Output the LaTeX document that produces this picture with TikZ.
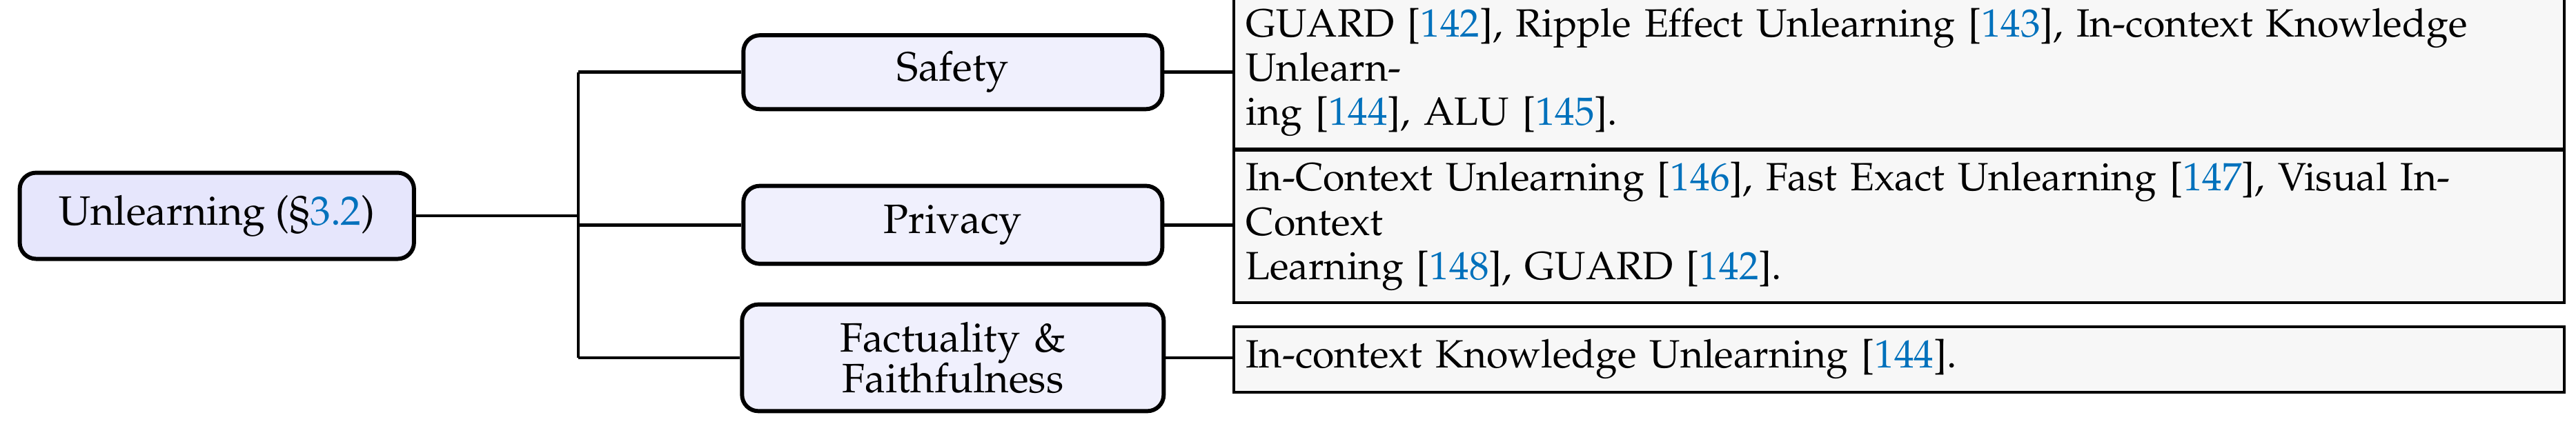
\documentclass[tikz,border=0pt]{standalone}
\usepackage[T1]{fontenc}
\usepackage{mathpazo}
\usepackage{tikz}
\definecolor{citeblue}{RGB}{0,113,188}
\definecolor{rootfill}{RGB}{230,230,252}
\definecolor{midfill}{RGB}{240,240,253}
\definecolor{leaffill}{RGB}{247,247,247}
\newcommand{\cit}[1]{[\textcolor{citeblue}{#1}]}

\begin{document}
\begin{tikzpicture}[
		x=0.4pt, y=-0.4pt,
		root/.style={draw, line width=1pt, rounded corners=4pt, fill=rootfill, minimum width=96pt, minimum height=21pt},
		topic/.style={draw, line width=1pt, rounded corners=4pt, fill=midfill, minimum width=102pt, align=center},
		leaf/.style={draw, line width=0.7pt, fill=leaffill, text width=318pt, align=left, anchor=west, inner sep=3pt, font=\fontsize{9.6}{10.8}\selectfont},
		edge/.style={line width=0.8pt}
		]
		\useasboundingbox (0,0) rectangle (1568,265);
		
		% Root
		\node[root] (root) at (132,131.5) {Unlearning (\S\textcolor{citeblue}{3.2})};
		\coordinate (split) at (352,131.5);
		
		% Topics
		\node[topic, minimum height=18pt] (safety) at (580,44) {Safety};
		\node[topic, minimum height=19pt] (privacy) at (580,137) {Privacy};
		\node[topic, minimum height=26pt, text width=96pt] (fact) at (580,218) {Factuality \&\\[-2pt] Faithfulness};
		
		% Leaves
		\node[leaf, minimum height=27pt] (leafsafety) at (750,44) {GUARD \cit{142}, Ripple Effect Unlearning \cit{143}, In-context Knowledge Unlearn-\\ing \cit{144}, ALU \cit{145}.};
		\node[leaf, minimum height=27pt] (leafprivacy) at (750,138) {In-Context Unlearning \cit{146}, Fast Exact Unlearning \cit{147}, Visual In-Context\\Learning \cit{148}, GUARD \cit{142}.};
		\node[leaf, minimum height=16pt] (leaffact) at (750,219) {In-context Knowledge Unlearning \cit{144}.};
		
		% Connectors
		\draw[edge] (root.east) -- (split);
		\foreach \t in {safety, privacy, fact}
		{
			\draw[edge] (split |- \t.west) -- (\t.west);
			\draw[edge] (\t.east) -- (\t.east -| leafsafety.west);
		}
		\draw[edge] (split |- safety.west) -- (split |- fact.west);
		
	\end{tikzpicture}
\end{document}
